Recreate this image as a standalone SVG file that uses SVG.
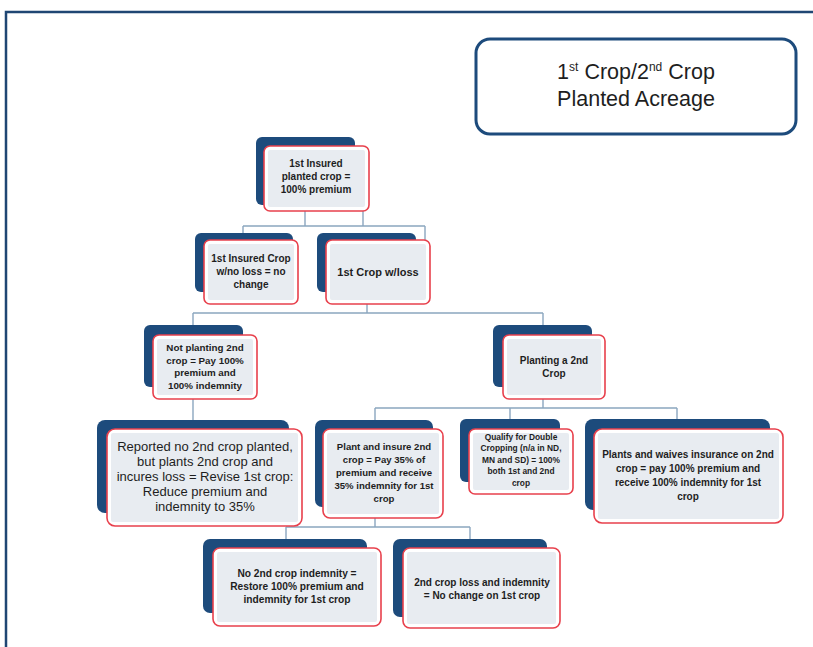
<svg xmlns="http://www.w3.org/2000/svg" width="813" height="647" viewBox="0 0 813 647">
<style>
.back{fill:#1d4b7c}
.front{fill:#ffffff;stroke:#e8404c;stroke-width:1.6}
.inner{fill:#e8ecf1}
.t{font-family:"Liberation Sans",Arial,sans-serif;fill:#1e1e1e;text-anchor:middle}
.b{font-weight:bold}
.conn{fill:none;stroke:#8ba6bf;stroke-width:1.4}
</style>
<rect x="0" y="0" width="813" height="647" fill="#ffffff"/>
<path d="M6 647 V12 H813" fill="none" stroke="#1f4673" stroke-width="2.5"/>
<g id="title">
<rect x="476" y="39" width="320" height="95" rx="14" fill="#ffffff" stroke="#1d4b7c" stroke-width="3"/>
<text class="t" x="636" y="79" font-size="21.5">1<tspan font-size="12" dy="-8">st</tspan><tspan dy="8"> Crop/2</tspan><tspan font-size="12" dy="-8">nd</tspan><tspan dy="8"> Crop</tspan></text>
<text class="t" x="636" y="106" font-size="21.5">Planted Acreage</text>
</g>
<g id="connectors" class="conn">
<path d="M305 211 V226 M363 211 V226 M243 226 H425 M243 226 V233 M425 226 V240"/>
<path d="M367 304 V313 M193 313 H543 M193 313 V325 M543 313 V325"/>
<path d="M193 399 V420"/>
<path d="M543 399 V408 M375 408 H677 M375 408 V420 M510 408 V419 M677 408 V419"/>
<path d="M375 518 V527 M286 527 H470 M286 527 V539 M470 527 V539"/>
</g>
<g id="n1">
<rect class="back" x="256" y="137" width="99" height="68" rx="6"/>
<rect class="front" x="264" y="146" width="105" height="65" rx="6"/>
<rect class="inner" x="268" y="150" width="97" height="57" rx="2"/>
<text class="t b" font-size="10" x="316"><tspan x="316" y="167">1st Insured</tspan><tspan x="316" y="180">planted crop =</tspan><tspan x="316" y="193">100% premium</tspan></text>
</g>
<g id="n2">
<rect class="back" x="195" y="233" width="98" height="59" rx="6"/>
<rect class="front" x="204" y="240" width="94" height="64" rx="6"/>
<rect class="inner" x="208" y="244" width="86" height="56" rx="2"/>
<text class="t b" font-size="10" x="251"><tspan x="251" y="262">1st Insured Crop</tspan><tspan x="251" y="275">w/no loss = no</tspan><tspan x="251" y="288">change</tspan></text>
</g>
<g id="n3">
<rect class="back" x="317" y="233" width="99" height="59" rx="6"/>
<rect class="front" x="326" y="240" width="104" height="64" rx="6"/>
<rect class="inner" x="330" y="244" width="96" height="56" rx="2"/>
<text class="t b" font-size="11" x="378" y="276">1st Crop w/loss</text>
</g>
<g id="n4">
<rect class="back" x="144" y="325" width="99" height="62" rx="6"/>
<rect class="front" x="153" y="335" width="104" height="64" rx="6"/>
<rect class="inner" x="157" y="339" width="96" height="56" rx="2"/>
<text class="t b" font-size="9.8" x="205"><tspan x="205" y="351">Not planting 2nd</tspan><tspan x="205" y="364">crop = Pay 100%</tspan><tspan x="205" y="376">premium and</tspan><tspan x="205" y="389">100% indemnity</tspan></text>
</g>
<g id="n5">
<rect class="back" x="493" y="325" width="99" height="62" rx="6"/>
<rect class="front" x="503" y="335" width="102" height="64" rx="6"/>
<rect class="inner" x="507" y="339" width="94" height="56" rx="2"/>
<text class="t b" font-size="10" x="554"><tspan x="554" y="364">Planting a 2nd</tspan><tspan x="554" y="377">Crop</tspan></text>
</g>
<g id="n6">
<rect class="back" x="97" y="420" width="192" height="93" rx="8"/>
<rect class="front" x="107" y="429" width="195" height="97" rx="8"/>
<rect class="inner" x="111" y="433" width="187" height="89" rx="2"/>
<text class="t" font-size="13" x="205"><tspan x="205" y="451">Reported no 2nd crop planted,</tspan><tspan x="205" y="466">but plants 2nd crop and</tspan><tspan x="205" y="481">incures loss = Revise 1st crop:</tspan><tspan x="205" y="496">Reduce premium and</tspan><tspan x="205" y="511">indemnity to 35%</tspan></text>
</g>
<g id="n7">
<rect class="back" x="315" y="420" width="118" height="87" rx="7"/>
<rect class="front" x="323" y="429" width="120" height="89" rx="7"/>
<rect class="inner" x="327" y="433" width="112" height="81" rx="2"/>
<text class="t b" font-size="9.6" x="384"><tspan x="384" y="450">Plant and insure 2nd</tspan><tspan x="384" y="463">crop = Pay 35% of</tspan><tspan x="384" y="476">premium and receive</tspan><tspan x="384" y="489">35% indemnity for 1st</tspan><tspan x="384" y="502">crop</tspan></text>
</g>
<g id="n8">
<rect class="back" x="460" y="419" width="100" height="63" rx="6"/>
<rect class="front" x="469" y="429" width="104" height="65" rx="6"/>
<rect class="inner" x="473" y="433" width="96" height="57" rx="2"/>
<text class="t b" font-size="8.4" x="521"><tspan x="521" y="440">Qualify for Double</tspan><tspan x="521" y="451">Cropping (n/a in ND,</tspan><tspan x="521" y="463">MN and SD) = 100%</tspan><tspan x="521" y="474">both 1st and 2nd</tspan><tspan x="521" y="486">crop</tspan></text>
</g>
<g id="n9">
<rect class="back" x="585" y="419" width="185" height="91" rx="8"/>
<rect class="front" x="594" y="429" width="189" height="94" rx="8"/>
<rect class="inner" x="598" y="433" width="181" height="86" rx="2"/>
<text class="t b" font-size="10" x="688"><tspan x="688" y="458">Plants and waives insurance on 2nd</tspan><tspan x="688" y="472">crop = pay 100% premium and</tspan><tspan x="688" y="486">receive 100% indemnity for 1st</tspan><tspan x="688" y="500">crop</tspan></text>
</g>
<g id="n10">
<rect class="back" x="203" y="539" width="164" height="74" rx="7"/>
<rect class="front" x="213" y="548" width="168" height="78" rx="7"/>
<rect class="inner" x="217" y="552" width="160" height="70" rx="2"/>
<text class="t b" font-size="10.2" x="297"><tspan x="297" y="577">No 2nd crop indemnity =</tspan><tspan x="297" y="590">Restore 100% premium and</tspan><tspan x="297" y="603">indemnity for 1st crop</tspan></text>
</g>
<g id="n11">
<rect class="back" x="393" y="539" width="154" height="78" rx="7"/>
<rect class="front" x="403" y="548" width="157" height="80" rx="7"/>
<rect class="inner" x="407" y="552" width="149" height="72" rx="2"/>
<text class="t b" font-size="10" x="482"><tspan x="482" y="586">2nd crop loss and indemnity</tspan><tspan x="482" y="599">= No change on 1st crop</tspan></text>
</g>
</svg>
